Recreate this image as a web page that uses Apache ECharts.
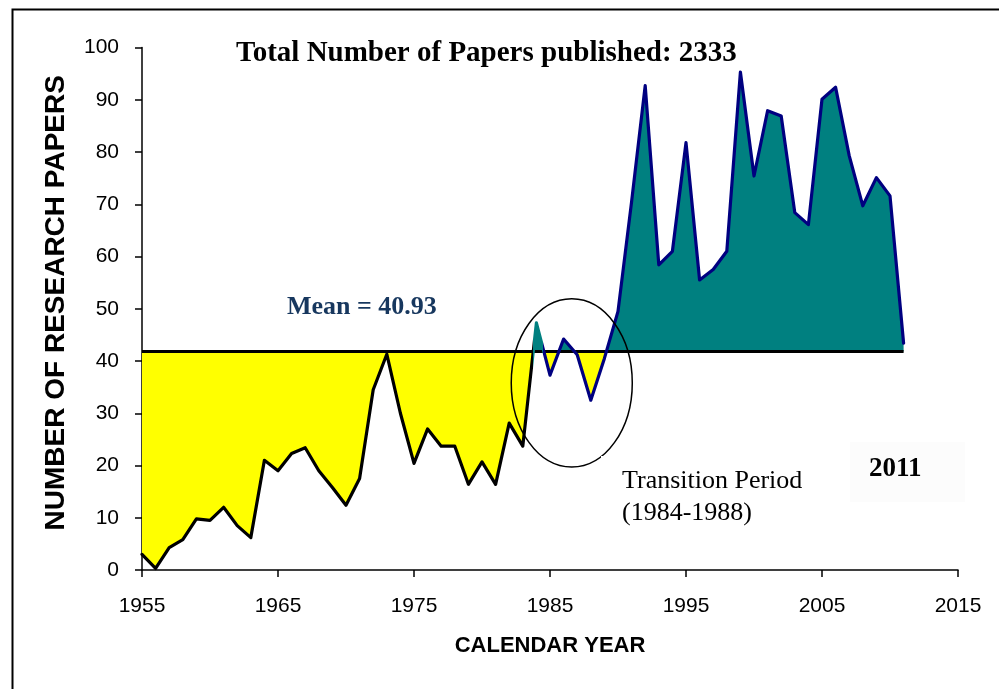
<!DOCTYPE html>
<html>
<head>
<meta charset="utf-8">
<script src="https://cdn.jsdelivr.net/npm/echarts@6/dist/echarts.min.js"></script>
<style>
html,body{margin:0;padding:0;background:#fff;}
#chart{width:999px;height:689px;}
</style>
</head>
<body>
<div id="chart"></div>
<script>
// ---- data ----
var years = [1955,1956,1957,1958,1959,1960,1961,1962,1963,1964,
             1965,1966,1967,1968,1969,1970,1971,1972,1973,1974,
             1975,1976,1977,1978,1979,1980,1981,1982,1983,1984,
             1985,1986,1987,1988,1989,1990,1991,1992,1993,1994,
             1995,1996,1997,1998,1999,2000,2001,2002,2003,2004,
             2005,2006,2007,2008,2009,2010,2011];
var papers = [3,0.3,4.3,5.8,9.8,9.5,12,8.5,6.2,21,
              19,22.3,23.4,19,15.8,12.4,17.5,34.5,41.3,30,
              20.4,27,23.7,23.7,16.4,20.7,16.4,28.1,23.7,47.3,
              37.3,44.2,41.2,32.5,40.5,49.5,70.5,92.7,58.4,61,
              81.8,55.5,57.5,61,95.3,75.4,87.9,86.9,68.4,66.1,
              90.1,92.4,79.3,69.7,75.1,71.6,43.4];
var meanLineLevel = 41.8;        // level where the mean line is drawn
var meanLabel = 'Mean = 40.93';
var titleText = 'Total Number of Papers published: 2333';
var xTickStart = 1955, xTickEnd = 2015, xTickStep = 10;
var yTickMin = 0, yTickMax = 100, yTickStep = 10;
var transitionStart = 1984, transitionEnd = 1988;

var seriesData = years.map(function (y, i) { return [y, papers[i]]; });

var chart = echarts.init(document.getElementById('chart'));
var sans = '"Liberation Sans", Arial, sans-serif';
var serif = '"Liberation Serif", "Times New Roman", serif';

var option = {
  animation: false,
  backgroundColor: '#fff',
  grid: { left: 142, right: 41, top: 47.5, bottom: 119 },
  xAxis: {
    type: 'value', min: xTickStart, max: xTickEnd, interval: xTickStep,
    name: 'CALENDAR YEAR', nameLocation: 'middle', nameGap: 65,
    nameTextStyle: { fontFamily: sans, fontWeight: 'bold', fontSize: 22, color: '#000' },
    axisLine: { lineStyle: { color: '#000', width: 1.5 } },
    axisTick: { show: true, length: 7, lineStyle: { color: '#000', width: 1.5 } },
    axisLabel: { fontFamily: sans, fontSize: 21, color: '#000', margin: 26,
                 formatter: function (v) { return String(v); } },
    splitLine: { show: false }
  },
  yAxis: {
    type: 'value', min: yTickMin, max: yTickMax, interval: yTickStep,
    name: 'NUMBER OF RESEARCH PAPERS', nameLocation: 'middle', nameGap: 72, nameRotate: 90,
    nameTextStyle: { fontFamily: sans, fontWeight: 'bold', fontSize: 28, color: '#000',
                     padding: [0, 0, 0, 12] },
    axisLine: { show: true, lineStyle: { color: '#000', width: 1.5 } },
    axisTick: { show: true, length: 7, lineStyle: { color: '#000', width: 1.5 } },
    axisLabel: { fontFamily: sans, fontSize: 21, color: '#000', margin: 23 },
    splitLine: { show: false }
  },
  visualMap: [
    { type: 'piecewise', show: false, seriesIndex: 0, dimension: 1,
      pieces: [ { gte: -50, lt: meanLineLevel, color: '#FFFF00' }, { gte: meanLineLevel, lte: 200, color: '#008080' } ] },
    { type: 'piecewise', show: false, seriesIndex: 1, dimension: 0,
      pieces: [ { gte: 1900, lt: 1983.78, color: '#000000' }, { gte: 1983.78, lt: 1984.45, color: '#008080' }, { gte: 1984.45, lte: 2100, color: '#000080' } ] }
  ],
  series: [
    {
      type: 'line', data: seriesData, symbol: 'none', z: 2,
      lineStyle: { width: 0 },
      areaStyle: { origin: meanLineLevel, opacity: 1 },
      markLine: {
        silent: true, symbol: 'none', animation: false,
        label: { show: false },
        lineStyle: { color: '#000', width: 3, type: 'solid' },
        data: [[ { coord: [years[0], meanLineLevel] }, { coord: [years[years.length - 1], meanLineLevel] } ]]
      }
    },
    {
      type: 'line', data: seriesData, symbol: 'none', z: 5,
      lineStyle: { width: 3.2, join: 'round', cap: 'round' }
    }
  ]
};
chart.setOption(option);

// ellipse around the transition period, placed from data coordinates
var cx = (transitionStart + transitionEnd) / 2 + 0.6;
var c = chart.convertToPixel({ gridIndex: 0 }, [cx, 35.8]);
var e1 = chart.convertToPixel({ gridIndex: 0 }, [cx + 4.45, 35.8 + 16.1]);
var rx = Math.abs(e1[0] - c[0]), ry = Math.abs(e1[1] - c[1]);

chart.setOption({
  graphic: [
    { type: 'rect', left: 10, top: 7, z: 0, silent: true,
      shape: { width: 1100, height: 800 },
      style: { fill: 'none', stroke: '#000', lineWidth: 2 } },
    { type: 'ellipse', z: 20, silent: true,
      shape: { cx: c[0], cy: c[1], rx: rx, ry: ry },
      style: { fill: 'none', stroke: '#000', lineWidth: 1.5 } },
    { type: 'rect', left: 601, top: 456, z: 21, silent: true,
      shape: { width: 235, height: 90 }, style: { fill: '#fff' } },
    { type: 'rect', left: 850, top: 442, z: 21, silent: true,
      shape: { width: 115, height: 60 }, style: { fill: '#fcfcfc' } },
    { type: 'text', left: 236, top: 39, z: 30, silent: true,
      style: { text: titleText, font: 'bold 29px ' + serif, fill: '#000' } },
    { type: 'text', left: 287, top: 294, z: 30, silent: true,
      style: { text: meanLabel, font: 'bold 26px ' + serif, fill: '#17375E' } },
    { type: 'text', left: 622, top: 465, z: 30, silent: true,
      style: { text: 'Transition Period\n(' + transitionStart + '-' + transitionEnd + ')', font: '26px ' + serif, fill: '#000', lineHeight: 32 } },
    { type: 'text', left: 869, top: 456, z: 30, silent: true,
      style: { text: String(years[years.length - 1]), font: 'bold 27px ' + serif, fill: '#000' } }
  ]
});
</script>
</body>
</html>
